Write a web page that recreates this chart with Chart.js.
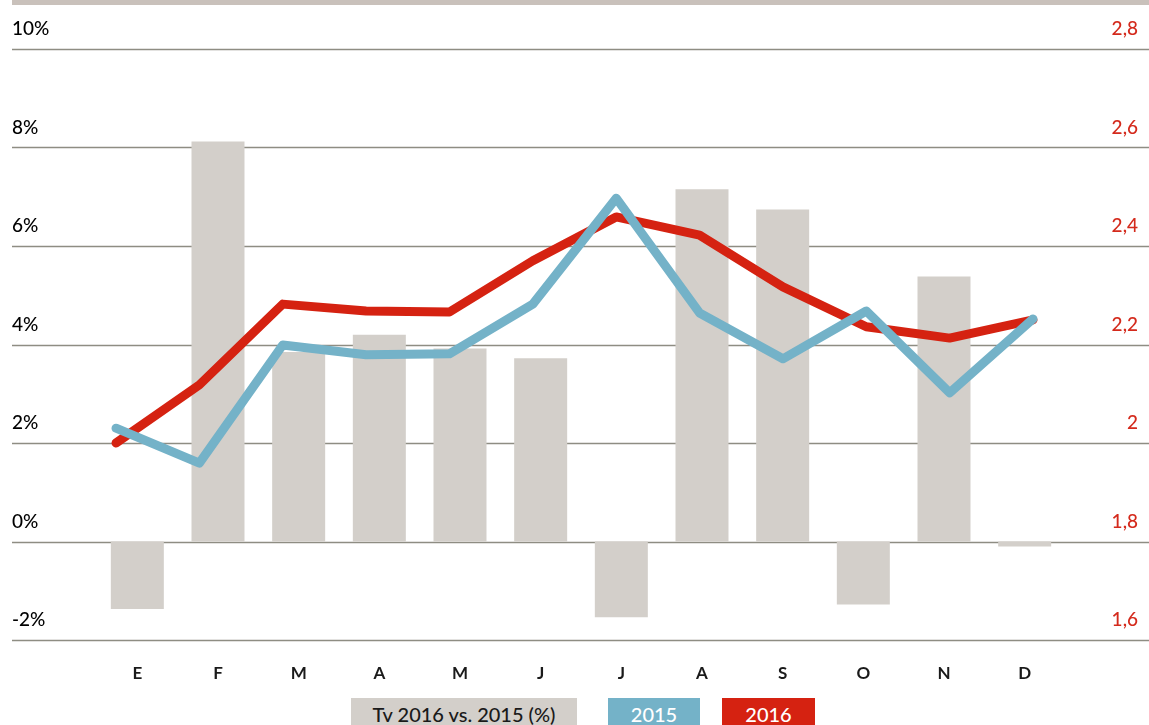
<!DOCTYPE html>
<html>
<head>
<meta charset="utf-8">
<script src="https://cdn.jsdelivr.net/npm/chart.js@4/dist/chart.umd.min.js"></script>
<style>
    body { margin: 0; background: #fff; overflow: hidden; font-family: Lato, "Noto Sans", sans-serif; }
    #wrap { position: relative; width: 1149px; height: 725px; }
    #topBar { position: absolute; left: 12px; top: 0; width: 1137px; height: 5px; background: #c9c1bb; }
    #chart { position: absolute; left: 0; top: 0; }
    .key { position: absolute; top: 698px; height: 33px; line-height: 33px; font-size: 20px; font-weight: 500; text-align: center; }
</style>
</head>
<body>
<div id="wrap">
    <canvas id="chart" width="1149" height="690"></canvas>
    <div id="topBar"></div>
    <div class="key" style="left:351px; width:226px; background:#d3cfca; color:#1a1a1a;">Tv 2016 vs. 2015 (%)</div>
    <div class="key" style="left:608px; width:92px; background:#74b2c8; color:#fff;">2015</div>
    <div class="key" style="left:722px; width:93px; background:#d52211; color:#fff;">2016</div>
</div>
<script>
const months = ['E', 'F', 'M', 'A', 'M', 'J', 'J', 'A', 'S', 'O', 'N', 'D'];
// variacion 2016 vs 2015 en %, eje izquierdo
const tv2016vs2015 = [-1.37, 8.12, 3.85, 4.2, 3.92, 3.72, -1.54, 7.15, 6.74, -1.28, 5.38, -0.1];
// eje derecho
const values2015 = [2.03, 1.959, 2.199, 2.179, 2.181, 2.282, 2.497, 2.264, 2.171, 2.268, 2.102, 2.252];
const values2016 = [2.0, 2.118, 2.282, 2.268, 2.266, 2.37, 2.459, 2.422, 2.317, 2.236, 2.213, 2.25];

const pctTicks = { min: -2, max: 10, step: 2 };
const rightTicks = { min: 1.6, max: 2.8, step: 0.2 };

// full width grid lines, drawn under the bars
const fullGrid = {
    id: 'fullGrid',
    beforeDatasetsDraw(chart) {
        const ctx = chart.ctx;
        const y = chart.scales.y;
        ctx.save();
        ctx.strokeStyle = '#8e8d83';
        ctx.lineWidth = 1.5;
        y.ticks.forEach(t => {
            const py = Math.round(y.getPixelForValue(t.value)) + 0.5;
            ctx.beginPath();
            ctx.moveTo(12, py);
            ctx.lineTo(chart.width, py);
            ctx.stroke();
        });
        ctx.restore();
    }
};

const toPoints = arr => arr.map((v, i) => ({ x: i, y: v }));

new Chart(document.getElementById('chart'), {
    type: 'bar',
    data: {
        labels: months,
        datasets: [
            {
                type: 'line',
                label: '2015',
                data: toPoints(values2015),
                xAxisID: 'x2',
                yAxisID: 'y2',
                borderColor: '#74b2c8',
                borderWidth: 9,
                pointRadius: 0,
                borderJoinStyle: 'round',
                borderCapStyle: 'round',
                order: 0
            },
            {
                type: 'line',
                label: '2016',
                data: toPoints(values2016),
                xAxisID: 'x2',
                yAxisID: 'y2',
                borderColor: '#d52211',
                borderWidth: 9,
                pointRadius: 0,
                borderJoinStyle: 'round',
                borderCapStyle: 'round',
                order: 1
            },
            {
                type: 'bar',
                label: 'Tv 2016 vs. 2015 (%)',
                data: tv2016vs2015,
                xAxisID: 'x',
                yAxisID: 'y',
                backgroundColor: '#d3cfca',
                grouped: false,
                barPercentage: 0.657,
                categoryPercentage: 1,
                order: 2
            }
        ]
    },
    options: {
        responsive: false,
        animation: false,
        layout: { padding: { top: 49, left: 12, right: 11, bottom: 0 } },
        plugins: { legend: { display: false }, tooltip: { enabled: false } },
        scales: {
            x: {
                type: 'category',
                grid: { display: false },
                border: { display: false },
                ticks: { color: '#1a1a1a', padding: 15, font: { family: 'Lato', size: 17, weight: 'bold' } },
                afterFit: s => { s.height = 50; }
            },
            x2: {
                type: 'linear',
                display: false,
                offset: false,
                bounds: 'ticks',
                min: -0.228,
                max: 11.384
            },
            y: {
                position: 'left',
                min: pctTicks.min,
                max: pctTicks.max,
                grid: { display: false },
                border: { display: false },
                ticks: {
                    stepSize: pctTicks.step,
                    crossAlign: 'far',
                    labelOffset: -20,
                    color: '#000',
                    font: { family: 'Lato', size: 19, weight: '500' },
                    callback: v => v + '%'
                },
                afterFit: s => { s.width = 85; }
            },
            y2: {
                position: 'right',
                min: rightTicks.min,
                max: rightTicks.max,
                grid: { display: false },
                border: { display: false },
                ticks: {
                    stepSize: rightTicks.step,
                    crossAlign: 'far',
                    labelOffset: -20,
                    color: '#d42a1c',
                    font: { family: 'Lato', size: 19, weight: '500' },
                    callback: v => String(Number(v.toFixed(1))).replace('.', ',')
                },
                afterFit: s => { s.width = 73; }
            }
        }
    },
    plugins: [fullGrid]
});
</script>
</body>
</html>
